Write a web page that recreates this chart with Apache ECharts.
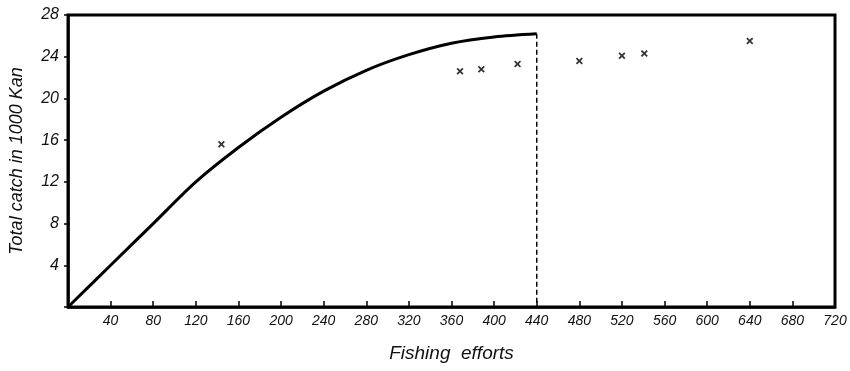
<!DOCTYPE html>
<html><head><meta charset="utf-8">
<script src="https://cdn.jsdelivr.net/npm/echarts@6/dist/echarts.min.js"></script>
<style>html,body{margin:0;padding:0;background:#fff}#c{width:850px;height:371px}</style>
</head><body><div id="c"></div>
<script>
// Fitted catch curve (fishing effort vs total catch, 1000 kan)
const curveEffort = [0, 40, 80, 120, 160, 200, 240, 280, 320, 360, 400, 440];
const curveCatch  = [0, 4.0, 8.0, 12.0, 15.3, 18.2, 20.7, 22.7, 24.2, 25.3, 25.9, 26.2];
// Observed points (crosses)
const obsEffort = [144, 368, 388, 422, 480, 520, 541, 640];
const obsCatch  = [15.6, 22.6, 22.8, 23.3, 23.6, 24.1, 24.3, 25.5];
// Dashed limit line
const limitEffort = 440;
const limitTop = 26.2;
const xTicks = [40,80,120,160,200,240,280,320,360,400,440,480,520,560,600,640,680,720];
const yTicks = [4,8,12,16,20,24,28];

const chart = echarts.init(document.getElementById('c'));
const font = '"Liberation Sans", Arial, sans-serif';
const crossPath = 'path://M0,1.8L1.8,0L5,3.2L8.2,0L10,1.8L6.8,5L10,8.2L8.2,10L5,6.8L1.8,10L0,8.2L3.2,5Z';
chart.setOption({
  animation: false,
  backgroundColor: '#fff',
  grid: {left: 68, right: 15, top: 15, bottom: 64, show: true, borderColor: '#000', borderWidth: 3, backgroundColor: 'transparent'},
  xAxis: {
    type: 'value', min: 0, max: 720, interval: 40,
    name: 'Fishing  efforts', nameLocation: 'middle', nameGap: 37,
    nameTextStyle: {fontFamily: font, fontStyle: 'italic', fontSize: 19, color: '#111'},
    axisLine: {show: true, lineStyle: {color: '#000', width: 2.5}},
    axisTick: {show: true, inside: true, length: 6, lineStyle: {color: '#000', width: 1.5}},
    axisLabel: {fontFamily: font, fontStyle: 'italic', fontSize: 14, color: '#111', margin: 7,
      formatter: v => xTicks.includes(v) ? String(v) : ''},
    splitLine: {show: false}
  },
  yAxis: {
    type: 'value', min: 0, max: 28, interval: 4,
    name: 'Total catch in 1000 Kan', nameLocation: 'middle', nameGap: 42, nameRotate: 90,
    nameTextStyle: {fontFamily: font, fontStyle: 'italic', fontSize: 18, color: '#111'},
    axisLine: {show: true, lineStyle: {color: '#000', width: 2.5}},
    axisTick: {show: true, length: 4, lineStyle: {color: '#000', width: 1.5}},
    axisLabel: {fontFamily: font, fontStyle: 'italic', fontSize: 16, color: '#111', margin: 9,
      formatter: v => yTicks.includes(v) ? String(v) : ''},
    splitLine: {show: false}
  },
  series: [
    {type: 'line', data: curveEffort.map((x, i) => [x, curveCatch[i]]), smooth: 0.3, showSymbol: false,
     lineStyle: {color: '#000', width: 3}},
    {type: 'line', data: [[limitEffort, limitTop], [limitEffort, 0]], showSymbol: false,
     lineStyle: {color: '#000', width: 1.5, type: [5, 3]}},
    {type: 'scatter', data: obsEffort.map((x, i) => [x, obsCatch[i]]), symbol: crossPath, symbolSize: 7,
     itemStyle: {color: '#000'}}
  ]
});
</script></body></html>
